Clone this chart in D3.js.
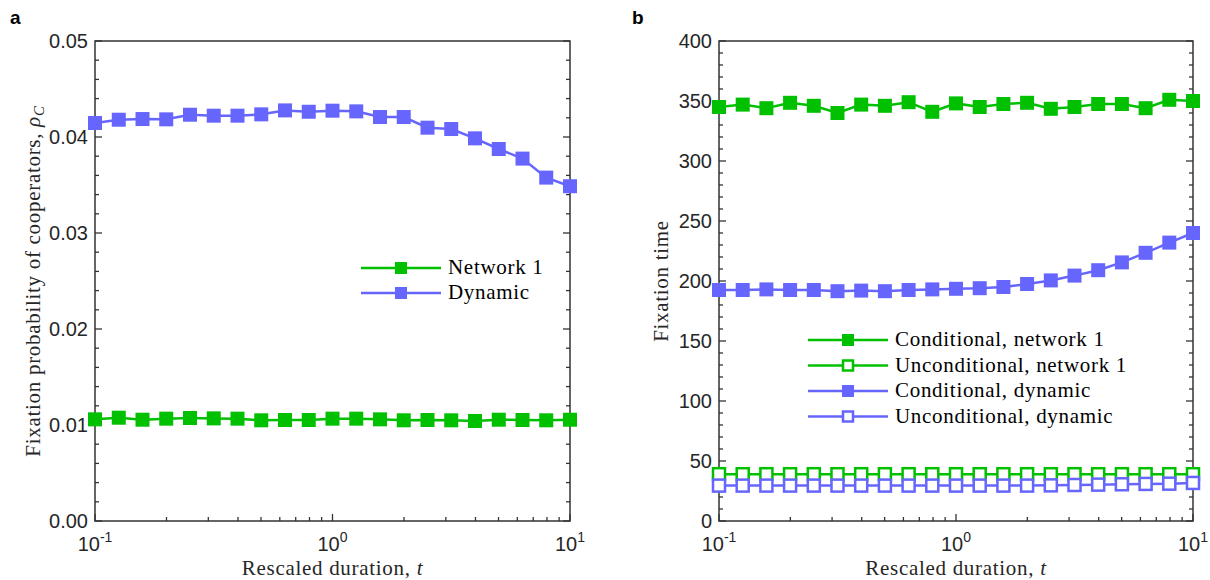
<!DOCTYPE html>
<html>
<head>
<meta charset="utf-8">
<script src="https://cdn.jsdelivr.net/npm/d3@7"></script>
<style>
  body { margin: 0; background: #fff; }
  svg { display: block; }
</style>
</head>
<body>
<svg id="chart" width="1210" height="580"></svg>
<script>
// rescaled duration values (log spaced, 21 points)
const tVals = [0.1, 0.1259, 0.1585, 0.1995, 0.2512, 0.3162, 0.3981, 0.5012, 0.631, 0.7943,
               1, 1.259, 1.585, 1.995, 2.512, 3.162, 3.981, 5.012, 6.31, 7.943, 10];

// panel a: fixation probability of cooperators
const rhoNetwork1 = [0.01059, 0.01076, 0.01055, 0.01066, 0.01073, 0.01069, 0.01066, 0.01049, 0.01052, 0.01052,
                     0.01066, 0.01066, 0.01059, 0.01049, 0.01052, 0.01049, 0.01042, 0.01055, 0.01052, 0.01049, 0.01055];
const rhoDynamic = [0.04146, 0.0418, 0.04187, 0.04184, 0.04232, 0.04222, 0.04222, 0.04236, 0.04277, 0.04263,
                    0.04274, 0.04267, 0.04208, 0.04208, 0.04097, 0.04083, 0.03986, 0.03875, 0.03775, 0.03577, 0.03487];

// panel b: fixation time
const timeCondNet1 = [345, 347, 344, 348.5, 346, 340, 347, 346, 349, 341, 348, 345, 347.5, 348.5, 343.5, 345, 347.5, 347.5, 344, 351, 350];
const timeUncondNet1 = [39, 39, 39, 39, 39, 39, 39, 39, 39, 39, 39, 39, 39, 39, 39, 39, 39, 39, 39, 39, 39];
const timeCondDyn = [192.5, 192.5, 193, 192.5, 192.5, 191.5, 192, 191.5, 192.5, 193, 193.5, 194, 195, 197.5, 200.5, 204.5, 209, 215.5, 223.5, 232, 240];
const timeUncondDyn = [29.5, 29.5, 29.5, 29.5, 29.5, 29.5, 29.5, 29.5, 29.5, 29.5, 29.5, 29.5, 29.5, 29.5, 29.7, 30, 30.3, 30.6, 30.9, 31.1, 31.7];

const green = "#00c000";
const blue = "#6666ff";
const axisColor = "#333";
const tickFont = "'Liberation Sans', Arial, sans-serif";
const serif = "'Liberation Serif', 'Times New Roman', serif";
const serifSize = 21;
const serifSpacing = 0.7;

const svg = d3.select("#chart");

function drawPanel(cfg) {
    const g = svg.append("g");
    const x = d3.scaleLog().domain([0.1, 10]).range([cfg.left, cfg.right]);
    const y = d3.scaleLinear().domain(cfg.yDomain).range([cfg.bottom, cfg.top]);

    // panel letter
    g.append("text")
        .attr("x", cfg.letterX).attr("y", 24)
        .attr("font-family", tickFont).attr("font-weight", "bold")
        .attr("font-size", 19).attr("fill", "#000")
        .text(cfg.letter);

    // y ticks (left and mirrored right, inward)
    const minorY = d3.range(cfg.yDomain[0], cfg.yDomain[1] + cfg.minorStep / 2, cfg.minorStep);
    minorY.forEach(v => {
        const isMajor = Math.abs(v / cfg.majorStep - Math.round(v / cfg.majorStep)) < 1e-6;
        const len = isMajor ? 7 : 4;
        [[cfg.left, 1], [cfg.right, -1]].forEach(([x0, dir]) => {
            g.append("line")
                .attr("x1", x0).attr("x2", x0 + dir * len)
                .attr("y1", y(v)).attr("y2", y(v))
                .attr("stroke", axisColor).attr("stroke-width", 1.3);
        });
    });
    y.ticks((cfg.yDomain[1] - cfg.yDomain[0]) / cfg.majorStep).forEach(v => {
        g.append("text")
            .attr("x", cfg.left - 7).attr("y", y(v) + 7)
            .attr("text-anchor", "end")
            .attr("font-family", tickFont).attr("font-size", 20).attr("fill", "#262626")
            .text(cfg.yFormat(v));
    });

    // x ticks (bottom, inward)
    const xTicks = [];
    [0.1, 1].forEach(dec => { for (let k = 1; k <= 9; k++) xTicks.push(dec * k); });
    xTicks.push(10);
    xTicks.forEach(v => {
        const major = [0.1, 1, 10].some(d => Math.abs(d - v) < 1e-9);
        g.append("line")
            .attr("x1", x(v)).attr("x2", x(v))
            .attr("y1", cfg.bottom).attr("y2", cfg.bottom - (major ? 7 : 4))
            .attr("stroke", axisColor).attr("stroke-width", 1.3);
    });
    [[0.1, "-1"], [1, "0"], [10, "1"]].forEach(([v, ex]) => {
        const t = g.append("text")
            .attr("x", x(v)).attr("y", cfg.bottom + 30)
            .attr("text-anchor", "middle")
            .attr("font-family", tickFont).attr("font-size", 20).attr("fill", "#262626");
        t.append("tspan").text("10");
        t.append("tspan").attr("dy", -9).attr("font-size", 14).text(ex);
    });

    // frame
    g.append("rect")
        .attr("x", cfg.left).attr("y", cfg.top)
        .attr("width", cfg.right - cfg.left).attr("height", cfg.bottom - cfg.top)
        .attr("fill", "none").attr("stroke", axisColor).attr("stroke-width", 1.5);

    // axis labels
    const xl = g.append("text")
        .attr("x", (cfg.left + cfg.right) / 2).attr("y", cfg.bottom + 54)
        .attr("text-anchor", "middle")
        .attr("font-family", serif).attr("font-size", serifSize)
        .attr("letter-spacing", serifSpacing).attr("fill", "#262626");
    xl.append("tspan").text("Rescaled duration, ");
    xl.append("tspan").attr("font-style", "italic").text("t");

    const yl = g.append("text")
        .attr("transform", `translate(${cfg.yLabelX},${(cfg.top + cfg.bottom) / 2}) rotate(-90)`)
        .attr("text-anchor", "middle")
        .attr("font-family", serif).attr("font-size", serifSize)
        .attr("letter-spacing", serifSpacing).attr("fill", "#262626");
    cfg.yLabel(yl);

    // series
    const line = d3.line().x((d, i) => x(tVals[i])).y(d => y(d));
    cfg.series.forEach(s => {
        g.append("path")
            .datum(s.values)
            .attr("d", line)
            .attr("fill", "none").attr("stroke", s.color).attr("stroke-width", 2.5);
        g.selectAll(null)
            .data(s.values)
            .enter()
            .append("rect")
            .attr("x", (d, i) => x(tVals[i]) - (s.open ? 6 : 7))
            .attr("y", d => y(d) - (s.open ? 6 : 7))
            .attr("width", s.open ? 12 : 14)
            .attr("height", s.open ? 12 : 14)
            .attr("fill", s.open ? "#fff" : s.color)
            .attr("stroke", s.color)
            .attr("stroke-width", s.open ? 2.5 : 0);
    });

    // legend
    cfg.series.forEach((s, i) => {
        const ly = cfg.legendY + i * cfg.legendStep;
        g.append("line")
            .attr("x1", cfg.legendX).attr("x2", cfg.legendX + 80)
            .attr("y1", ly).attr("y2", ly)
            .attr("stroke", s.color).attr("stroke-width", 2.5);
        g.append("rect")
            .attr("x", cfg.legendX + 40 - (s.open ? 5 : 6))
            .attr("y", ly - (s.open ? 5 : 6))
            .attr("width", s.open ? 10 : 12).attr("height", s.open ? 10 : 12)
            .attr("fill", s.open ? "#fff" : s.color)
            .attr("stroke", s.color).attr("stroke-width", s.open ? 2.5 : 0);
        g.append("text")
            .attr("x", cfg.legendX + 87).attr("y", ly + 6)
            .attr("font-family", serif).attr("font-size", serifSize)
            .attr("letter-spacing", serifSpacing).attr("fill", "#000")
            .text(s.name);
    });
}

drawPanel({
    letter: "a", letterX: 10,
    left: 95, right: 570, top: 41, bottom: 521,
    yDomain: [0, 0.05], majorStep: 0.01, minorStep: 0.002,
    yFormat: d3.format(".2f"),
    yLabelX: 40,
    yLabel: t => {
        t.append("tspan").text("Fixation probability of cooperators, ");
        t.append("tspan").attr("font-style", "italic").text("ρ");
        t.append("tspan").attr("font-style", "italic").attr("font-size", 15).attr("dy", 4).text("C");
    },
    legendX: 361, legendY: 268, legendStep: 25,
    series: [
        { name: "Network 1", values: rhoNetwork1, color: green, open: false },
        { name: "Dynamic", values: rhoDynamic, color: blue, open: false }
    ]
});

drawPanel({
    letter: "b", letterX: 632,
    left: 719, right: 1193, top: 41, bottom: 521,
    yDomain: [0, 400], majorStep: 50, minorStep: 10,
    yFormat: d3.format("d"),
    yLabelX: 668,
    yLabel: t => { t.text("Fixation time"); },
    legendX: 808, legendY: 340, legendStep: 25.5,
    series: [
        { name: "Conditional, network 1", values: timeCondNet1, color: green, open: false },
        { name: "Unconditional, network 1", values: timeUncondNet1, color: green, open: true },
        { name: "Conditional, dynamic", values: timeCondDyn, color: blue, open: false },
        { name: "Unconditional, dynamic", values: timeUncondDyn, color: blue, open: true }
    ]
});
</script>
</body>
</html>
